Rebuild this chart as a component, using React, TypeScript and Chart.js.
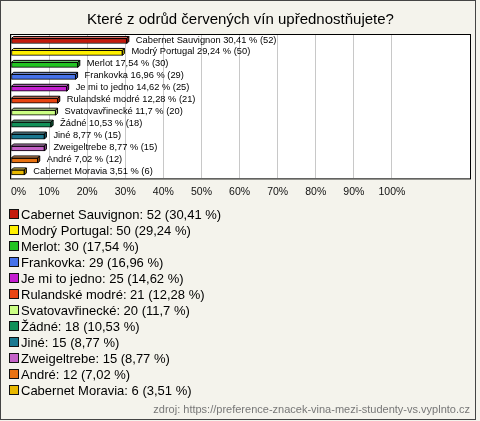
import React, { useEffect, useRef } from "react";
import { Chart, registerables } from "chart.js";

Chart.register(...registerables);

const TITLE = "Které z odrůd červených vín upřednostňujete?";
const SOURCE = "zdroj: https://preference-znacek-vina-mezi-studenty-vs.vyplnto.cz";

const categories = [
  "Cabernet Sauvignon",
  "Modrý Portugal",
  "Merlot",
  "Frankovka",
  "Je mi to jedno",
  "Rulandské modré",
  "Svatovavřinecké",
  "Žádné",
  "Jiné",
  "Zweigeltrebe",
  "André",
  "Cabernet Moravia",
];
const counts = [52, 50, 30, 29, 25, 21, 20, 18, 15, 15, 12, 6];
const percents = [30.41, 29.24, 17.54, 16.96, 14.62, 12.28, 11.7, 10.53, 8.77, 8.77, 7.02, 3.51];
const colors = [
  "#c41a0c",
  "#fff000",
  "#22c422",
  "#4672ea",
  "#c41ed0",
  "#e84412",
  "#ccff84",
  "#109058",
  "#1a7890",
  "#c462c8",
  "#e87212",
  "#e8b800",
];
const tickValues = [0, 10, 20, 30, 40, 50, 60, 70, 80, 90, 100];
const AXIS_MAX = 120.5;

const FONT = "'Liberation Sans', Arial, sans-serif";
const fmt = (p: number) => String(p).replace(".", ",");

function shade(hex: string, f: number) {
  const n = parseInt(hex.slice(1), 16);
  let r = (n >> 16) & 255, g = (n >> 8) & 255, b = n & 255;
  if (f > 0) {
    r = Math.round(r + (255 - r) * f);
    g = Math.round(g + (255 - g) * f);
    b = Math.round(b + (255 - b) * f);
  } else {
    r = Math.round(r * (1 + f));
    g = Math.round(g * (1 + f));
    b = Math.round(b * (1 + f));
  }
  return `rgb(${r},${g},${b})`;
}

const decorPlugin = {
  id: "decor",
  beforeDraw(chart: any) {
    const { ctx, chartArea, width, height } = chart;
    ctx.save();
    ctx.fillStyle = "#f4f3ec";
    ctx.fillRect(0, 0, width, height);
    ctx.fillStyle = "#ffffff";
    ctx.fillRect(chartArea.left, chartArea.top, chartArea.right - chartArea.left, chartArea.bottom - chartArea.top);
    ctx.restore();
  },
  afterDatasetsDraw(chart: any) {
    const { ctx, chartArea } = chart;
    const meta = chart.getDatasetMeta(0);
    const d = 2;
    ctx.save();
    meta.data.forEach((bar: any, i: number) => {
      const x = bar.x;
      const base = bar.base;
      const top = bar.y - bar.height / 2;
      const bot = bar.y + bar.height / 2;
      ctx.lineWidth = 1;
      ctx.strokeStyle = "#000";
      // top face
      ctx.beginPath();
      ctx.moveTo(base, top);
      ctx.lineTo(base + d, top - d);
      ctx.lineTo(x + d, top - d);
      ctx.lineTo(x, top);
      ctx.closePath();
      ctx.fillStyle = shade(colors[i], 0.35);
      ctx.fill();
      ctx.stroke();
      // side face
      ctx.beginPath();
      ctx.moveTo(x, top);
      ctx.lineTo(x + d, top - d);
      ctx.lineTo(x + d, bot - d);
      ctx.lineTo(x, bot);
      ctx.closePath();
      ctx.fillStyle = shade(colors[i], -0.25);
      ctx.fill();
      ctx.stroke();
      // label
      ctx.fillStyle = "#000";
      ctx.font = `9.3px ${FONT}`;
      ctx.textAlign = "left";
      ctx.textBaseline = "middle";
      ctx.fillText(`${categories[i]} ${fmt(percents[i])} % (${counts[i]})`, x + 9, bar.y - 1);
    });
    // chart area border
    ctx.strokeStyle = "#000";
    ctx.lineWidth = 1;
    ctx.strokeRect(chartArea.left - 0.5, chartArea.top - 0.5, chartArea.right - chartArea.left + 1, chartArea.bottom - chartArea.top + 1);
    ctx.restore();
  },
  afterDraw(chart: any) {
    const { ctx } = chart;
    ctx.save();
    // legend
    const startY = 214;
    const step = 16;
    categories.forEach((c, i) => {
      const y = startY + i * step;
      ctx.fillStyle = colors[i];
      ctx.fillRect(10, y - 4, 8, 8);
      ctx.strokeStyle = "#111";
      ctx.lineWidth = 1;
      ctx.strokeRect(9.5, y - 4.5, 9, 9);
      ctx.fillStyle = "#000";
      ctx.font = `13px ${FONT}`;
      ctx.textAlign = "left";
      ctx.textBaseline = "middle";
      ctx.fillText(`${c}: ${counts[i]} (${fmt(percents[i])} %)`, 21, y + 1);
    });
    // source
    ctx.fillStyle = "#777";
    ctx.font = `11px ${FONT}`;
    ctx.textAlign = "right";
    ctx.textBaseline = "middle";
    ctx.fillText(SOURCE, 470, 410);
    // frame
    ctx.strokeStyle = "#444";
    ctx.lineWidth = 1;
    ctx.strokeRect(0.5, 0.5, 475, 419);
    ctx.restore();
  },
};

export default function App() {
  const ref = useRef<HTMLCanvasElement | null>(null);
  useEffect(() => {
    if (!ref.current) return;
    const chart = new Chart(ref.current, {
      type: "bar",
      data: {
        labels: categories,
        datasets: [
          {
            data: percents,
            backgroundColor: colors,
            borderColor: "#000",
            borderWidth: 1,
            borderSkipped: false,
            barThickness: 5,
          },
        ],
      },
      options: {
        indexAxis: "y",
        responsive: false,
        animation: false,
        layout: { padding: { left: 11, right: 10, top: 0, bottom: 216 } },
        plugins: {
          legend: { display: false },
          tooltip: { enabled: false },
          title: {
            display: true,
            text: TITLE,
            color: "#000",
            font: { family: FONT, size: 15, weight: "normal" },
            padding: { top: 11, bottom: 6 },
          },
        },
        scales: {
          x: {
            min: 0,
            max: AXIS_MAX,
            afterBuildTicks: (scale: any) => {
              scale.ticks = [...tickValues, AXIS_MAX].map((v) => ({ value: v }));
            },
            afterFit: (scale: any) => {
              scale.paddingLeft = 0;
              scale.paddingRight = 0;
            },
            ticks: {
              color: "#111",
              font: { family: FONT, size: 10.5 },
              padding: 7,
              align: "inner",
              callback: (v: any) => (v > 100 ? "" : `${v}%`),
              maxRotation: 0,
              autoSkip: false,
            },
            grid: { color: "#c8c8c8", drawTicks: false },
            border: { display: false },
          },
          y: {
            display: false,
          },
        },
      },
      plugins: [decorPlugin],
    });
    return () => chart.destroy();
  }, []);
  return (
    <div style={{ position: "absolute", left: 0, top: 0, width: 480, height: 421 }}>
      <canvas ref={ref} width={480} height={421} style={{ width: 480, height: 421, display: "block" }} />
    </div>
  );
}
